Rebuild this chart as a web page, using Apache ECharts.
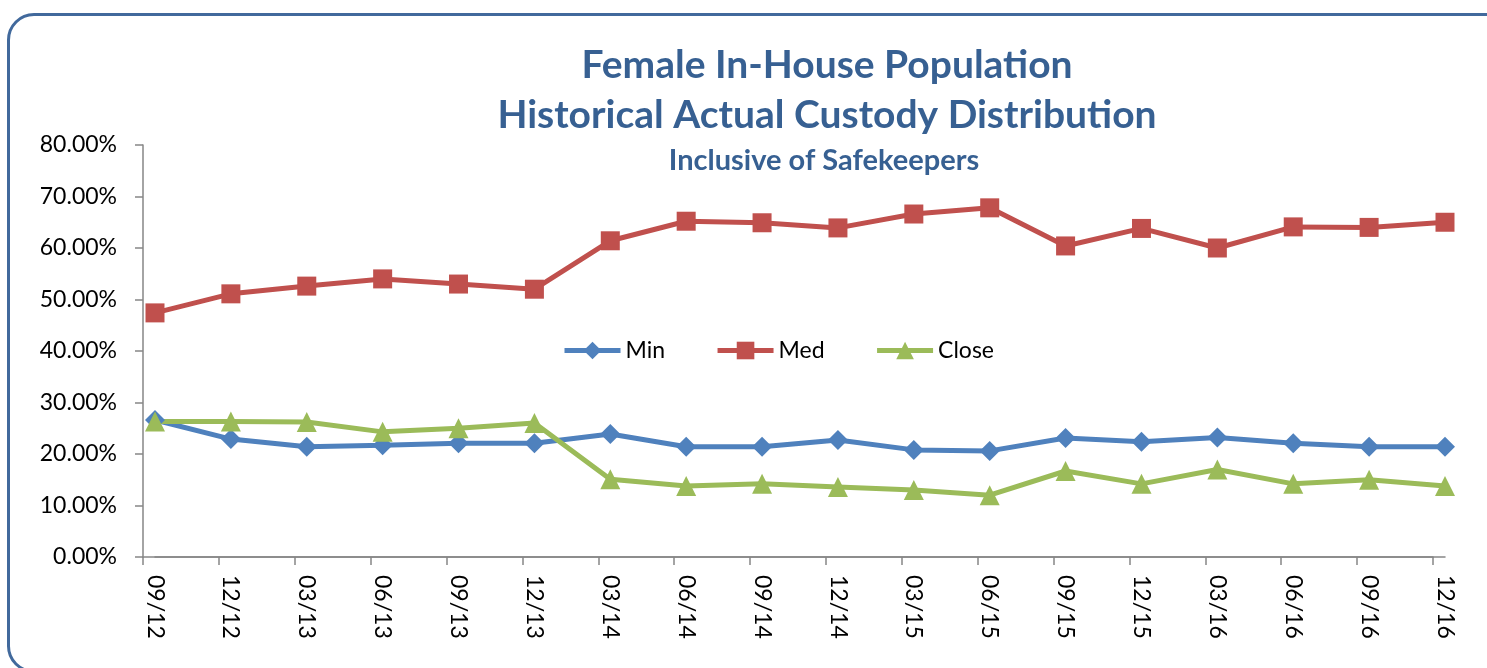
<!DOCTYPE html>
<html>
<head>
<meta charset="utf-8">
<script src="https://cdn.jsdelivr.net/npm/echarts@6/dist/echarts.min.js"></script>
<style>
html,body{margin:0;padding:0;background:#fff;overflow:hidden;}
#frame{position:absolute;left:7px;top:13px;width:1600px;height:660px;border:3px solid #41699c;border-radius:27px;box-sizing:border-box;}
#main{position:absolute;left:0;top:0;width:1487px;height:668px;}
</style>
</head>
<body>
<div id="frame"></div>
<div id="main"></div>
<script>
// quarters shown on the x axis
var periods = ['09/12','12/12','03/13','06/13','09/13','12/13','03/14','06/14','09/14','12/14','03/15','06/15','09/15','12/15','03/16','06/16','09/16','12/16'];
// percent of female in-house population per custody level
var minVals = [26.6,22.9,21.4,21.7,22.1,22.1,23.9,21.4,21.4,22.7,20.8,20.6,23.1,22.4,23.2,22.1,21.4,21.4];
var medVals = [47.4,51.1,52.6,54.0,53.0,52.0,61.4,65.2,64.9,63.9,66.6,67.8,60.4,63.8,60.0,64.1,64.0,65.0];
var closeVals = [26.3,26.3,26.2,24.3,25.0,26.0,15.1,13.8,14.2,13.6,13.0,12.0,16.7,14.2,17.0,14.2,15.0,13.8];
var yTicks = {min:0, max:80, step:10};

var font = 'Lato, "Open Sans", sans-serif';
var axisGrey = '#868686';

function makeLine(name, data, color, symbol, size){
	return {
		name: name,
		type: 'line',
		xAxisIndex: 0,
		yAxisIndex: 0,
		data: data,
		symbol: symbol,
		symbolSize: size,
		lineStyle: {color: color, width: 5},
		itemStyle: {color: color},
		emphasis: {disabled: true},
		z: 3
	};
}

var option = {
	animation: false,
	title: [
		{
			text: 'Female In-House Population\nHistorical Actual Custody Distribution',
			left: 827, top: 40, padding: 0,
			textAlign: 'center',
			textStyle: {fontFamily: font, fontSize: 39, fontWeight: 'bold', color: '#376092', lineHeight: 50}
		},
		{
			text: 'Inclusive of Safekeepers',
			left: 824, top: 146, padding: 0,
			textAlign: 'center',
			textStyle: {fontFamily: font, fontSize: 29, fontWeight: 'bold', color: '#376092', lineHeight: 30}
		}
	],
	legend: {
		data: ['Min','Med','Close'],
		left: 562, top: 339, padding: 0,
		itemWidth: 56, itemHeight: 22, itemGap: 50,
		lineStyle: {width: 5},
		textStyle: {fontFamily: font, fontSize: 23, color: '#000'}
	},
	grid: [
		{left: 155, right: 42, top: 145, bottom: 111},
		{left: 143, right: 54, top: 145, bottom: 111}
	],
	xAxis: [
		{
			gridIndex: 0, type: 'category', data: periods, boundaryGap: false,
			axisLine: {show: true, lineStyle: {color: axisGrey, width: 1.5}},
			axisTick: {show: false},
			axisLabel: {rotate: -90, margin: 18, fontFamily: font, fontSize: 23, color: '#000'},
			splitLine: {show: false}
		},
		{
			gridIndex: 1, type: 'category', data: periods, boundaryGap: false,
			axisLine: {show: true, lineStyle: {color: axisGrey, width: 1.5}},
			axisTick: {show: true, length: 8, lineStyle: {color: axisGrey, width: 1.5}},
			axisLabel: {show: false},
			splitLine: {show: false}
		}
	],
	yAxis: [
		{
			gridIndex: 0, type: 'value', min: yTicks.min, max: yTicks.max, interval: yTicks.step,
			axisLine: {show: false}, axisTick: {show: false}, axisLabel: {show: false}, splitLine: {show: false}
		},
		{
			gridIndex: 1, type: 'value', min: yTicks.min, max: yTicks.max, interval: yTicks.step,
			axisLine: {show: true, lineStyle: {color: axisGrey, width: 1.5}},
			axisTick: {show: true, length: 8, lineStyle: {color: axisGrey, width: 1.5}},
			axisLabel: {margin: 26, fontFamily: font, fontSize: 23, color: '#000',
				formatter: function(v){ return v.toFixed(2) + '%'; }},
			splitLine: {show: false}
		}
	],
	series: [
		makeLine('Min', minVals, '#4f81bd', 'diamond', 20),
		makeLine('Med', medVals, '#c0504d', 'rect', 19),
		makeLine('Close', closeVals, '#9bbb59', 'triangle', 20)
	]
};

var myChart = echarts.init(document.getElementById('main'));
myChart.setOption(option);
</script>
</body>
</html>
